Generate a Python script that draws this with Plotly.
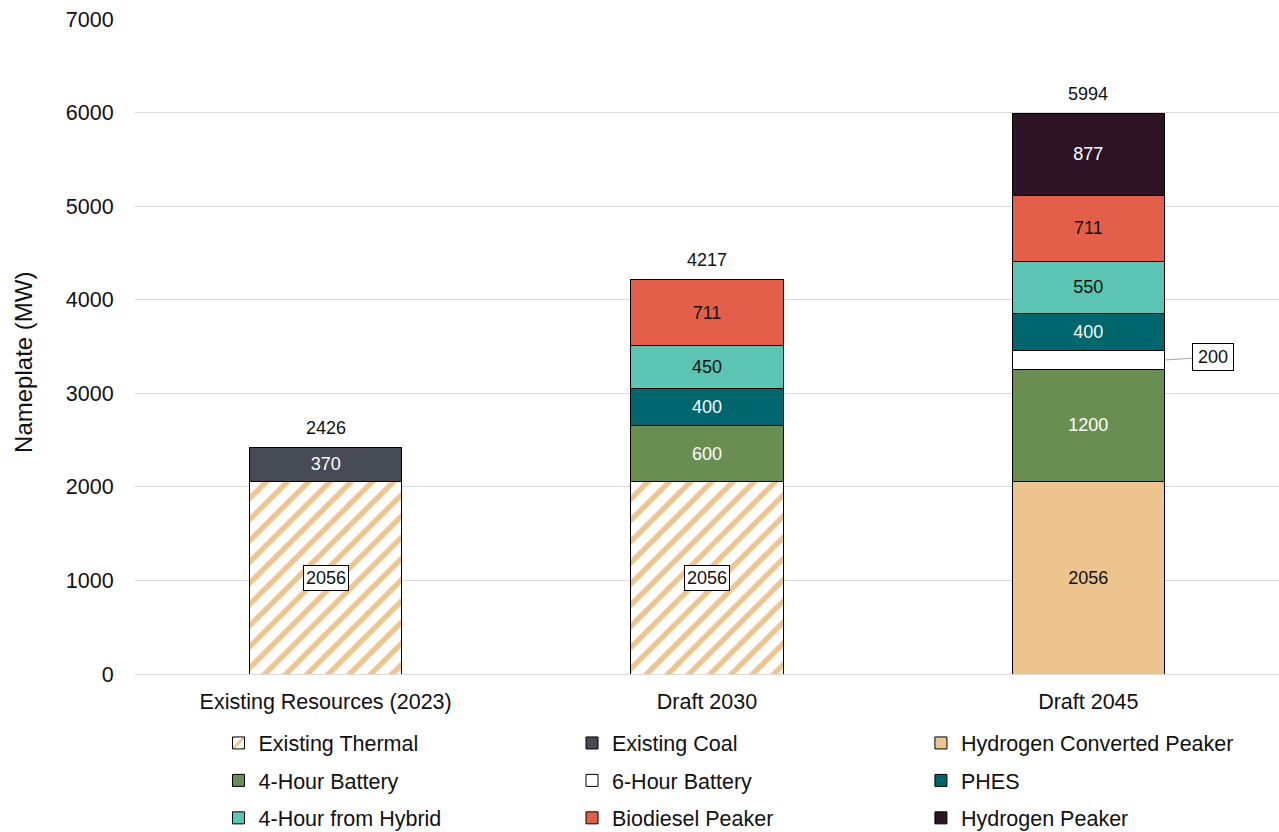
import plotly.graph_objects as go

# Portfolio nameplate capacity (MW) by resource type
categories = ["Existing Resources (2023)", "Draft 2030", "Draft 2045"]
existing_thermal = [2056, 2056, None]
hydrogen_converted = [None, None, 2056]
existing_coal = [370, None, None]
battery_4h = [None, 600, 1200]
battery_6h = [None, None, 200]
phes = [None, 400, 400]
hybrid_4h = [None, 450, 550]
biodiesel = [None, 711, 711]
hydrogen_peaker = [None, None, 877]

y_ticks = [0, 1000, 2000, 3000, 4000, 5000, 6000, 7000]

FONT = "Liberation Sans, Arial, sans-serif"
INK = "#111111"
LABEL_SIZE = 18
AXIS_SIZE = 21.5

fig = go.Figure()


def txt(vals):
    return [("" if v is None else str(v)) for v in vals]


def add_bar(name, vals, color, legend, text_color=INK, show_text=True, pattern=None):
    marker = dict(color=color, line=dict(color="#000000", width=1))
    if pattern is not None:
        marker["pattern"] = pattern
    fig.add_trace(go.Bar(
        name=name,
        x=categories,
        y=vals,
        width=0.4,
        marker=marker,
        text=txt(vals) if show_text else None,
        textposition="inside" if show_text else "none",
        insidetextanchor="middle",
        textangle=0,
        constraintext="none",
        insidetextfont=dict(family=FONT, size=LABEL_SIZE, color=text_color),
        legend=legend,
        legendgroup=name,
        hoverinfo="name+y",
    ))


thermal_pattern = dict(shape="/", fgcolor="#EFC48F", bgcolor="#FFFFFF",
                       size=15, solidity=0.36, fillmode="replace")

add_bar("Existing Thermal", existing_thermal, "#FFFFFF", "legend",
        show_text=False, pattern=thermal_pattern)
add_bar("Hydrogen Converted Peaker", hydrogen_converted, "#EDC38E", "legend3")
add_bar("Existing Coal", existing_coal, "#474B55", "legend2", text_color="#FFFFFF")
add_bar("4-Hour Battery", battery_4h, "#6A8D52", "legend", text_color="#FFFFFF")
add_bar("6-Hour Battery", battery_6h, "#FFFFFF", "legend2", show_text=False)
add_bar("PHES", phes, "#00666E", "legend3", text_color="#FFFFFF")
add_bar("4-Hour from Hybrid", hybrid_4h, "#5BC4B3", "legend")
add_bar("Biodiesel Peaker", biodiesel, "#E45F4A", "legend2")
add_bar("Hydrogen Peaker", hydrogen_peaker, "#2C1425", "legend3", text_color="#FFFFFF")

annotations = []

# Boxed labels on the hatched existing-thermal segments
for i, v in enumerate(existing_thermal):
    if v is not None:
        annotations.append(dict(
            x=categories[i], y=v / 2, text=str(v), showarrow=False,
            font=dict(family=FONT, size=LABEL_SIZE, color=INK),
            bgcolor="#FFFFFF", bordercolor="#000000", borderwidth=1, borderpad=2,
        ))

# 6-hour battery label sits outside the bar with a leader line
base_2045 = (hydrogen_converted[2] or 0) + (battery_4h[2] or 0)
annotations.append(dict(
    x=2.2, y=base_2045 + battery_6h[2] / 2, text=str(battery_6h[2]),
    showarrow=True, arrowhead=0, arrowwidth=1, arrowcolor="#A6A6A6",
    ax=48, ay=-3, standoff=0, width=34,
    font=dict(family=FONT, size=LABEL_SIZE, color=INK),
    bgcolor="#FFFFFF", bordercolor="#000000", borderwidth=1, borderpad=3,
))

# Stack totals above each bar
series = [existing_thermal, hydrogen_converted, existing_coal, battery_4h,
          battery_6h, phes, hybrid_4h, biodiesel, hydrogen_peaker]
for i, cat in enumerate(categories):
    total = sum((s[i] or 0) for s in series)
    annotations.append(dict(
        x=cat, y=total, text=str(total), showarrow=False,
        yanchor="bottom", yshift=7,
        font=dict(family=FONT, size=LABEL_SIZE, color=INK),
    ))

# Vertical axis title
annotations.append(dict(
    xref="paper", yref="paper", x=-0.097, y=0.475,
    text="Nameplate (MW)", textangle=-90, showarrow=False,
    xanchor="center", yanchor="middle",
    font=dict(family=FONT, size=24, color=INK),
))

legend_common = dict(
    orientation="v", yanchor="top", xanchor="left", y=-0.074,
    font=dict(family=FONT, size=AXIS_SIZE, color=INK),
    bgcolor="rgba(0,0,0,0)", tracegroupgap=6.5, itemwidth=30,
    traceorder="grouped",
)

fig.update_layout(
    width=1279, height=832,
    margin=dict(l=135, r=0, t=19, b=158, autoexpand=False),
    paper_bgcolor="#FFFFFF", plot_bgcolor="#FFFFFF",
    barmode="stack",
    font=dict(family=FONT, size=AXIS_SIZE, color=INK),
    showlegend=True,
    legend=dict(x=0.073, **legend_common),
    legend2=dict(x=0.382, **legend_common),
    legend3=dict(x=0.687, **legend_common),
    annotations=annotations,
    xaxis=dict(
        showgrid=False, showline=True, linecolor="#D9D9D9", linewidth=1,
        ticks="outside", ticklen=8, tickcolor="rgba(0,0,0,0)",
        tickfont=dict(family=FONT, size=AXIS_SIZE, color=INK),
    ),
    yaxis=dict(
        range=[0, 7000], tickvals=y_ticks,
        showgrid=True, gridcolor="#D9D9D9", gridwidth=1, zeroline=False,
        ticks="outside", ticklen=16, tickcolor="rgba(0,0,0,0)",
        tickfont=dict(family=FONT, size=AXIS_SIZE, color=INK),
    ),
)

fig.write_html("out.html")
